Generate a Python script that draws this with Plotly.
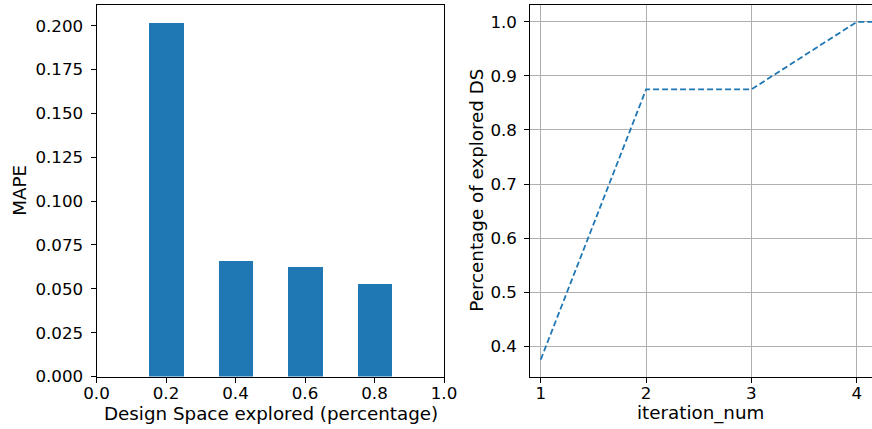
import plotly.graph_objects as go

# Left panel: prediction error vs. share of the design space explored
explored_frac = [0.2, 0.4, 0.6, 0.8]
mape_values = [0.2017, 0.0659, 0.0625, 0.0528]
bar_width = 0.1

# Right panel: cumulative explored fraction per iteration
iteration_num = [1, 2, 3, 4, 5]
explored_pct = [0.375, 0.875, 0.875, 1.0, 1.0]

left_xticks = [0.0, 0.2, 0.4, 0.6, 0.8, 1.0]
left_yticks = [0.0, 0.025, 0.05, 0.075, 0.1, 0.125, 0.15, 0.175, 0.2]
right_xticks = [1, 2, 3, 4]
right_yticks = [0.4, 0.5, 0.6, 0.7, 0.8, 0.9, 1.0]

W, H = 872, 429
BLUE = "#1f77b4"
TICK_FONT = dict(family="DejaVu Sans", size=16.7, color="black")
LABEL_FONT = dict(family="DejaVu Sans", size=18.3, color="black")

def px_x(p):
    return p / W

def px_y(p):
    return 1 - p / H

fig = go.Figure()

fig.add_trace(go.Bar(
    x=explored_frac, y=mape_values, width=bar_width,
    marker=dict(color=BLUE, line=dict(width=0)),
    xaxis="x", yaxis="y", showlegend=False,
))

fig.add_trace(go.Scatter(
    x=iteration_num, y=explored_pct, mode="lines",
    line=dict(color=BLUE, width=1.8, dash="6px,3px"),
    xaxis="x2", yaxis="y2", showlegend=False,
))

ydom = [px_y(376.5), px_y(5)]
axis_common = dict(
    showline=True, linecolor="black", linewidth=1,
    ticks="outside", ticklen=5, tickwidth=1, tickcolor="black",
    tickfont=TICK_FONT, zeroline=False, automargin=False,
)

ymax_left = max(mape_values) * 1.05

fig.update_layout(
    width=W, height=H,
    margin=dict(l=0, r=0, t=0, b=0, autoexpand=False),
    paper_bgcolor="white", plot_bgcolor="white",
    font=TICK_FONT,
    bargap=0,
    xaxis=dict(
        domain=[px_x(96.5), px_x(444)], anchor="y",
        range=[0, 1], tickvals=left_xticks, tickformat=".1f",
        mirror=True, showgrid=False, ticklabelstandoff=-4,
        **axis_common,
    ),
    yaxis=dict(
        domain=ydom, anchor="x",
        range=[0, ymax_left], tickvals=left_yticks, tickformat=".3f",
        mirror=True, showgrid=False, ticklabelstandoff=4,
        **axis_common,
    ),
    xaxis2=dict(
        domain=[px_x(530.3), 1.0], anchor="y2",
        range=[0.901, 4.145], tickvals=right_xticks,
        mirror=True, showgrid=True, gridcolor="#b0b0b0", gridwidth=1,
        ticklabelstandoff=-4,
        **axis_common,
    ),
    yaxis2=dict(
        domain=ydom, anchor="x2",
        range=[0.34375, 1.03125], tickvals=right_yticks, tickformat=".1f",
        mirror=False, showgrid=True, gridcolor="#b0b0b0", gridwidth=1,
        ticklabelstandoff=4,
        **axis_common,
    ),
    annotations=[
        dict(text="Design Space explored (percentage)", xref="paper", yref="paper",
             x=px_x(270.5), y=px_y(413), xanchor="center", yanchor="middle",
             showarrow=False, font=LABEL_FONT),
        dict(text="MAPE", xref="paper", yref="paper",
             x=px_x(20), y=px_y(190.7), xanchor="center", yanchor="middle",
             textangle=-90, showarrow=False, font=LABEL_FONT),
        dict(text="iteration_num", xref="paper", yref="paper",
             x=px_x(700), y=px_y(413), xanchor="center", yanchor="middle",
             showarrow=False, font=LABEL_FONT),
        dict(text="Percentage of explored DS", xref="paper", yref="paper",
             x=px_x(477), y=px_y(190.7), xanchor="center", yanchor="middle",
             textangle=-90, showarrow=False, font=LABEL_FONT),
    ],
)

fig.write_html("out.html")
